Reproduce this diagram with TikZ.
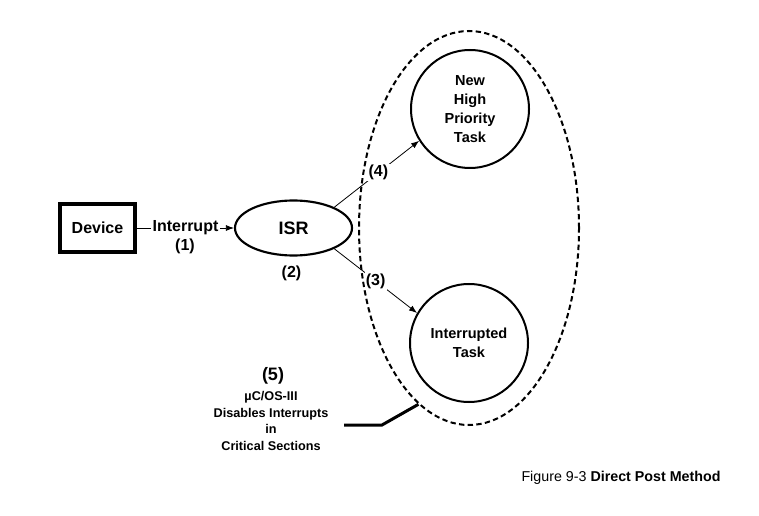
\documentclass[tikz,border=0pt]{standalone}
\usepackage{fontspec}
\setmainfont{Liberation Sans}
\usetikzlibrary{shapes.geometric,arrows.meta,positioning}
\newcommand{\fsz}[2]{\fontsize{#1}{#2}\selectfont}

\begin{document}
\begin{tikzpicture}[x=0.75pt,y=-0.75pt,
  ptr/.style={-{Latex[length=6pt,width=4.5pt]},line width=0.6pt},
  task/.style={circle,draw,line width=1.5pt,minimum size=88.5pt,inner sep=0pt,
    align=center,font=\bfseries\fsz{10.9}{14.25}},
  tag/.style={fill=white,inner sep=1pt,font=\bfseries\fsz{12}{14}}]
  \useasboundingbox (0,0) rectangle (759,516);

  \node[draw,line width=3pt,minimum width=56.25pt,minimum height=36pt,
    font=\bfseries\fsz{12}{14}] (device) at (97.5,228) {Device};
  \node[ellipse,draw,line width=1.6pt,minimum width=87.75pt,minimum height=41.25pt,
    font=\bfseries\fsz{13.5}{16}] (isr) at (293.5,228) {ISR};
  \node[task] (newtask) at (470,109) {New\\High\\Priority\\Task};
  \node[task] (oldtask) at (469,343) {Interrupted\\Task};

  \draw[ptr] (device) -- node[tag] {Interrupt} (isr);
  \node[tag] (step1) at (185,246) {(1)};
  \node[tag] (step2) at (291.5,273) {(2)};
  \draw[ptr] (isr.27) -- node[tag,pos=0.52] {(4)} (newtask.212);
  \draw[ptr] (isr.-27) -- node[tag,pos=0.5] {(3)} (oldtask.150);

  \node[ellipse,draw,line width=1.5pt,dash pattern=on 4pt off 2.5pt,
    minimum width=165pt,minimum height=295.5pt] (postzone) at (469,228) {};

  \node[font=\bfseries\fsz{13.5}{16}] (step5) at (273,376) {(5)};
  \node[align=center,font=\bfseries\fsz{9.5}{12.5}] (critnote) at (271,421)
    {µC/OS-III\\Disables Interrupts\\in\\Critical Sections};
  \coordinate (notestart) at (344,425);
  \draw[line width=2.25pt] (notestart) -- ++(38,0) -- (postzone.254);

  \node[font=\fsz{10.7}{13}] (caption) at (621,478) {Figure 9-3 \textbf{Direct Post Method}};
\end{tikzpicture}
\end{document}
